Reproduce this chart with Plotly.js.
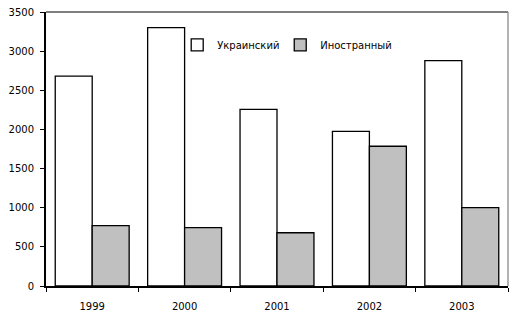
<!DOCTYPE html>
<html>
<head>
<meta charset="utf-8">
<script src="https://cdn.plot.ly/plotly-3.0.1.min.js"></script>
<style>html,body{margin:0;padding:0;background:#fff;}#chart{width:512px;height:313px;}</style>
</head>
<body>
<div id="chart"></div>
<script>
const years = ['1999', '2000', '2001', '2002', '2003'];
const ukrainian = [2680, 3300, 2255, 1975, 2880];
const foreign = [770, 745, 680, 1785, 1000];
const seriesNames = ['Украинский', 'Иностранный'];
const yTicks = [0, 500, 1000, 1500, 2000, 2500, 3000, 3500];

const font = {family: 'DejaVu Sans, Verdana, sans-serif', size: 10, color: '#000'};
const legendFont = {family: 'DejaVu Sans, sans-serif', size: 10, color: '#000'};

const traces = [
  {type: 'bar', name: seriesNames[0], x: years, y: ukrainian, legend: 'legend',
   marker: {color: '#ffffff', line: {color: '#000', width: 1.3}}},
  {type: 'bar', name: seriesNames[1], x: years, y: foreign, legend: 'legend2',
   marker: {color: '#c0c0c0', line: {color: '#000', width: 1.3}}}
];

const layout = {
  width: 512, height: 313,
  margin: {l: 46, r: 4, t: 12, b: 27, pad: 0},
  paper_bgcolor: '#fff', plot_bgcolor: '#fff',
  font: font,
  barmode: 'group', bargap: 0.2, bargroupgap: 0,
  showlegend: true,
  legend: {orientation: 'h', x: 0.284, xanchor: 'left', y: 0.88, yanchor: 'middle',
           bgcolor: 'rgba(0,0,0,0)', font: legendFont},
  legend2: {orientation: 'h', x: 0.507, xanchor: 'left', y: 0.88, yanchor: 'middle',
           bgcolor: 'rgba(0,0,0,0)', font: legendFont},
  xaxis: {type: 'category', showgrid: false, zeroline: false,
          showline: true, linecolor: '#000', linewidth: 2,
          ticks: 'outside', ticklen: 4, tickcolor: '#000', tickwidth: 1, tickson: 'boundaries',
          ticklabelstandoff: 10, tickfont: font},
  yaxis: {range: [0, 3500], tickmode: 'array', tickvals: yTicks, ticktext: yTicks.map(String),
          showgrid: false, zeroline: false, showline: true, linecolor: '#000', linewidth: 2,
          ticks: 'outside', ticklen: 4, tickcolor: '#000', tickwidth: 1,
          ticklabelstandoff: 4, tickfont: font},
  shapes: [
    {type: 'line', xref: 'paper', yref: 'paper', x0: 0, x1: 1, y0: 1, y1: 1, line: {color: '#000', width: 1.2}},
    {type: 'line', xref: 'paper', yref: 'paper', x0: 1, x1: 1, y0: 0, y1: 1, line: {color: '#808080', width: 1.2}}
  ]
};

Plotly.newPlot('chart', traces, layout, {displayModeBar: false, staticPlot: true});
</script>
</body>
</html>
